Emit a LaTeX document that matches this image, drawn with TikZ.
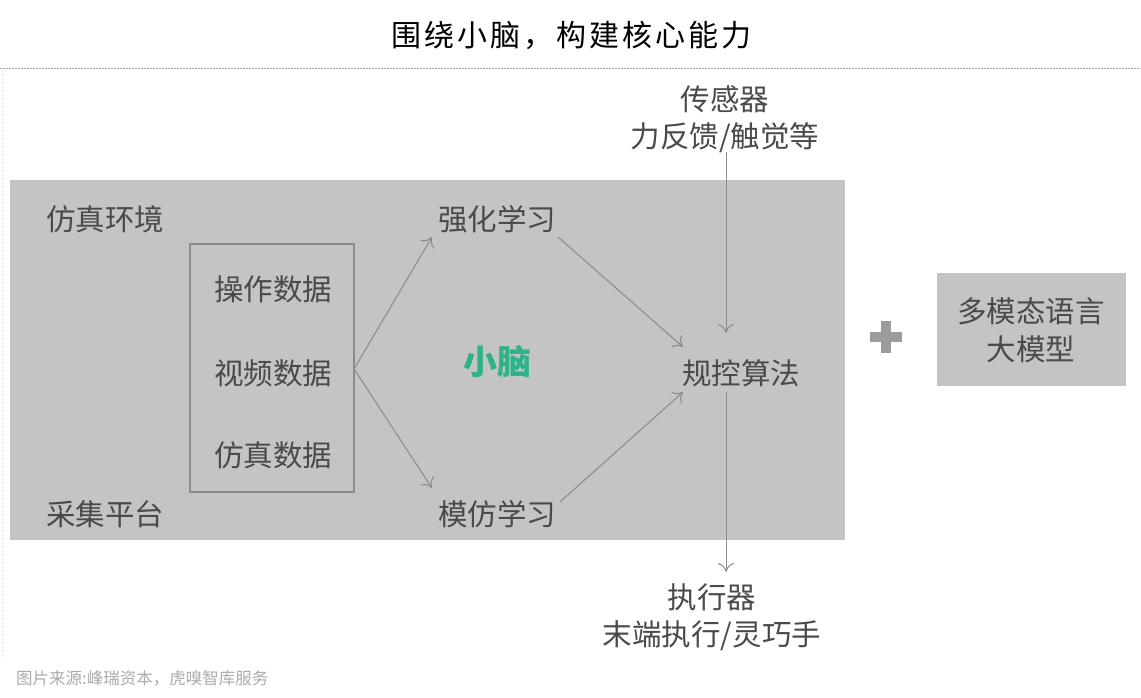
\documentclass[tikz,border=0pt]{standalone}
\usepackage{fontspec}
\setmainfont{Noto Sans CJK SC}
\newfontfamily\cjk{Noto Sans CJK SC}
\newfontfamily\cjktitle[LetterSpace=10]{Noto Sans CJK SC}
\usetikzlibrary{arrows.meta,calc}
\definecolor{panel}{HTML}{C4C4C4}
\definecolor{txt}{HTML}{4A4A4A}
\definecolor{edge}{HTML}{8A8A8A}
\definecolor{brain}{HTML}{2DB28A}
\definecolor{cap}{HTML}{ABABAB}
\tikzset{
  lbl/.style={font=\cjk\fontsize{29.5}{37.5}\selectfont, text=txt, inner sep=0pt},
  flow/.style={draw=edge, line width=1pt, -{To[length=9pt,width=16pt,line width=1pt]}},
}
\begin{document}
\begin{tikzpicture}[x=1pt,y=-1pt]
\useasboundingbox (0,0) rectangle (1141,698);
\fill[white] (0,0) rectangle (1141,698);
% title
\node[font=\cjktitle\fontsize{30}{32}\selectfont, text=black, inner sep=0pt] (title) at (571,35) {围绕小脑，构建核心能力};
% dashed separator and faint left edge
\draw[gray!70, line width=0.6pt, dash pattern=on 1.5pt off 1.5pt] (0,68) -- (1141,68);
\draw[gray!25, line width=0.8pt, dash pattern=on 2pt off 2pt] (2,70) -- (2,660);
% panel
\fill[panel] (10,180) rectangle (845,540);
\fill[panel] (937,273) rectangle (1126,386);
% inner box
\draw[edge, line width=1.2pt] (190,244) rectangle (354,492);
% texts
\node[lbl] (env) at (105,219) {仿真环境};
\node[lbl] (collect) at (105,514) {采集平台};
\node[lbl] (op) at (273,289) {操作数据};
\node[lbl] (video) at (273,373) {视频数据};
\node[lbl] (sim) at (273,455) {仿真数据};
\coordinate (fork) at (354,369);
\node[lbl] (rl) at (497,219) {强化学习};
\node[lbl] (il) at (497,514) {模仿学习};
\node[font=\cjk\bfseries\fontsize{34}{36}\selectfont, text=brain, inner sep=0pt] (brain) at (497,362) {小脑};
\node[lbl] (ctrl) at (741,373) {规控算法};
\node[lbl, align=center] (sensor) at (725,119) {传感器\\力反馈/触觉等};
\node[lbl, align=center] (act) at (712,617) {执行器\\末端执行/灵巧手};
\node[lbl, align=center] (llm) at (1031,330) {多模态语言\\大模型};
% plus sign
\node[inner sep=0pt, minimum size=0pt] (plus) at (886,337) {};
\fill[edge!85] ($(plus)+(-16,-5)$) rectangle ($(plus)+(16,5)$);
\fill[edge!85] ($(plus)+(-5,-16)$) rectangle ($(plus)+(5,16)$);
% caption
\node[font=\cjk\fontsize{16.5}{18}\selectfont, text=cap, anchor=west, inner sep=0pt] (caption) at (16,678) {图片来源:峰瑞资本，虎嗅智库服务};
% connectors
\draw[flow] (fork) -- (432,237);
\draw[flow] (fork) -- (432,488);
\draw[flow] (558,237) -- (683,347);
\draw[flow] (560,502) -- (683,392);
\draw[flow] (726,152) -- (726,333);
\draw[flow] (726,392) -- (726,572);
\end{tikzpicture}
\end{document}
